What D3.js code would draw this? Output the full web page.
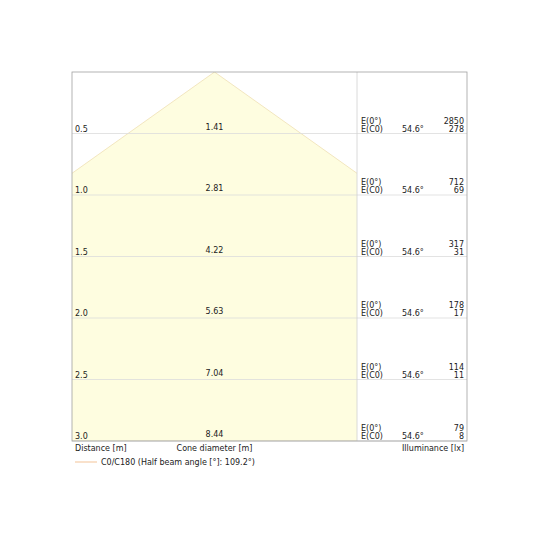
<!DOCTYPE html>
<html>
<head>
<meta charset="utf-8">
<script src="https://cdn.jsdelivr.net/npm/d3@7"></script>
<style>
	body { margin: 0; background: #fff; }
	text { font-family: "DejaVu Sans", sans-serif; font-size: 8px; fill: #222; }
</style>
</head>
<body>
<div id="chart"></div>
<script>
var distances = [0.5, 1.0, 1.5, 2.0, 2.5, 3.0];
var distanceLabels = ["0.5", "1.0", "1.5", "2.0", "2.5", "3.0"];
var coneDiameters = [1.41, 2.81, 4.22, 5.63, 7.04, 8.44];
var illumCenter = [2850, 712, 317, 178, 114, 79];
var illumC0 = [278, 69, 31, 17, 11, 8];
var halfAngleLabel = "54.6°";
var legendLabel = "C0/C180 (Half beam angle [°]: 109.2°)";

function drawChart(){
	var w = 540, h = 540;
	var box = {left: 72, right: 467, top: 72, bottom: 441, split: 357};

	var svg = d3.select("#chart").append("svg").attr("width", w).attr("height", h);

	var y = d3.scaleLinear().domain([0, 3]).range([box.top, box.bottom]);
	// same metres-per-pixel as the vertical scale, centred on the cone axis
	var halfSpan = (box.split - box.left) / 2 / (y(1) - y(0));
	var x = d3.scaleLinear().domain([-halfSpan, halfSpan]).range([box.left, box.split]);

	svg.append("clipPath").attr("id", "plotClip")
		.append("rect")
		.attr("x", box.left).attr("y", box.top)
		.attr("width", box.split - box.left).attr("height", box.bottom - box.top);

	// cone polygon from the last row's diameter
	var dMax = distances[distances.length - 1];
	var rMax = coneDiameters[coneDiameters.length - 1] / 2;
	var cone = [[0, 0], [-rMax, dMax], [rMax, dMax]];

	svg.append("path")
		.attr("clip-path", "url(#plotClip)")
		.attr("d", d3.line().x(function(d){ return x(d[0]); }).y(function(d){ return y(d[1]); })(cone) + "Z")
		.attr("fill", "#fefde0")
		.attr("stroke", "#efe0b4")
		.attr("stroke-width", 0.8);

	// row grid lines
	svg.selectAll(".row")
		.data(distances)
		.enter()
		.append("line")
		.attr("class", "row")
		.attr("x1", box.left).attr("x2", box.right)
		.attr("y1", function(d){ return y(d); })
		.attr("y2", function(d){ return y(d); })
		.attr("stroke", "#dcdcdc")
		.attr("stroke-width", 0.8);

	svg.append("line")
		.attr("x1", box.split).attr("x2", box.split)
		.attr("y1", box.top).attr("y2", box.bottom)
		.attr("stroke", "#d0d0d0")
		.attr("stroke-width", 0.8);

	svg.append("rect")
		.attr("x", box.left).attr("y", box.top)
		.attr("width", box.right - box.left).attr("height", box.bottom - box.top)
		.attr("fill", "none")
		.attr("stroke", "#a0a0a0")
		.attr("stroke-width", 0.8);

	var rows = svg.selectAll(".rowText")
		.data(distances)
		.enter()
		.append("g")
		.attr("transform", function(d){ return "translate(0," + y(d) + ")"; });

	rows.append("text").attr("x", box.left + 3).attr("y", -2)
		.text(function(d, i){ return distanceLabels[i]; });
	rows.append("text").attr("x", x(0)).attr("y", -4).attr("text-anchor", "middle")
		.text(function(d, i){ return coneDiameters[i].toFixed(2); });
	rows.append("text").attr("x", box.split + 4).attr("y", -10).text("E(0°)");
	rows.append("text").attr("x", box.split + 4).attr("y", -2).text("E(C0)");
	rows.append("text").attr("x", box.split + 45).attr("y", -2).text(halfAngleLabel);
	rows.append("text").attr("x", box.right - 3).attr("y", -10).attr("text-anchor", "end")
		.text(function(d, i){ return illumCenter[i]; });
	rows.append("text").attr("x", box.right - 3).attr("y", -2).attr("text-anchor", "end")
		.text(function(d, i){ return illumC0[i]; });

	// axis captions
	svg.append("text").attr("x", box.left + 3).attr("y", box.bottom + 10).text("Distance [m]");
	svg.append("text").attr("x", x(0)).attr("y", box.bottom + 10).attr("text-anchor", "middle").text("Cone diameter [m]");
	svg.append("text").attr("x", box.right - 3).attr("y", box.bottom + 10).attr("text-anchor", "end").text("Illuminance [lx]");

	// legend
	svg.append("line")
		.attr("x1", box.left + 3).attr("x2", box.left + 25)
		.attr("y1", box.bottom + 21).attr("y2", box.bottom + 21)
		.attr("stroke", "#f6cda8").attr("stroke-width", 1.2);
	svg.append("text").attr("x", box.left + 29).attr("y", box.bottom + 24).text(legendLabel);
}

drawChart();
</script>
</body>
</html>
